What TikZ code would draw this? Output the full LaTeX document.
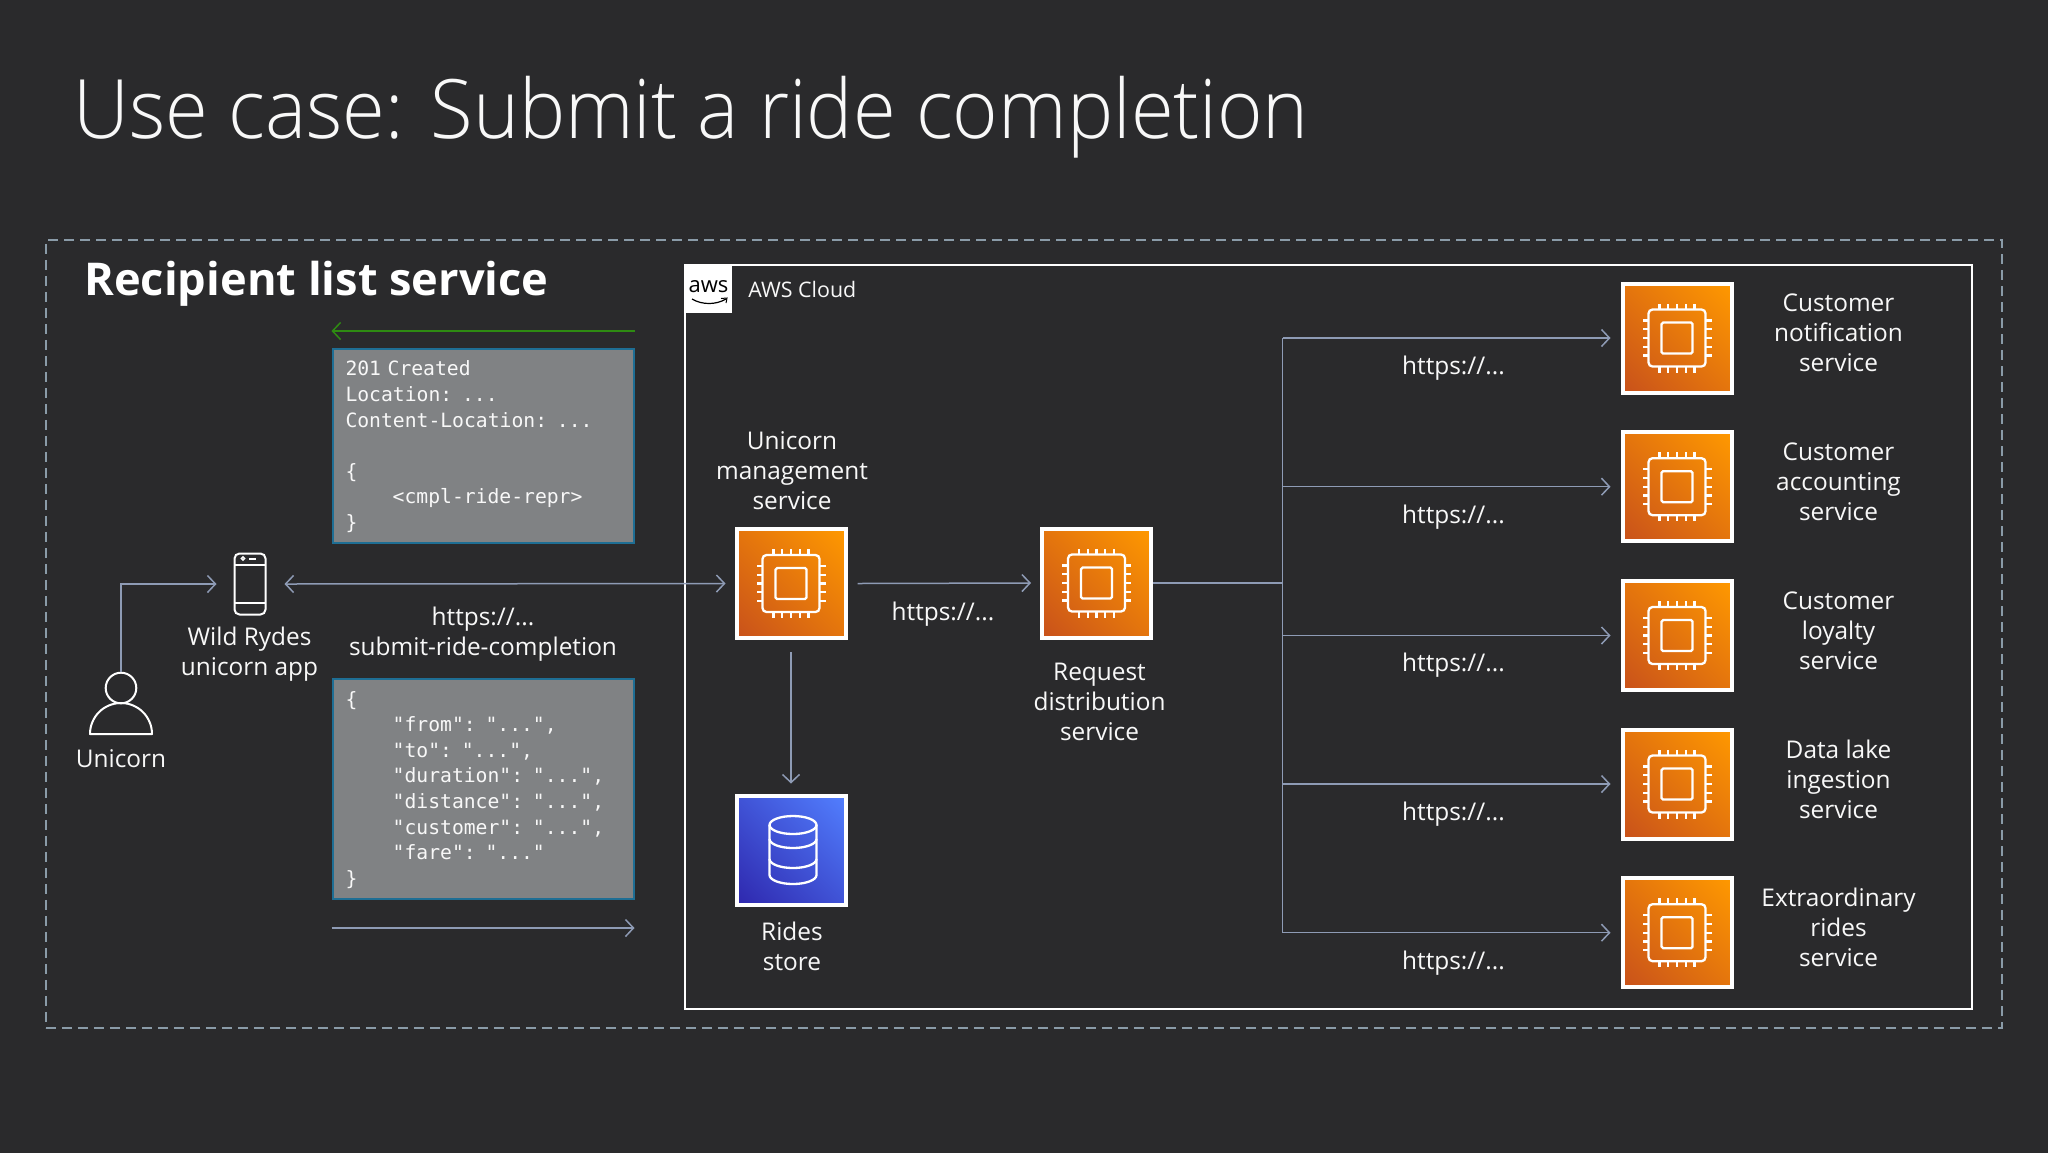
\documentclass[tikz,border=0pt]{standalone}
\usepackage{fontspec}
\setmainfont{Open Sans}
\newfontfamily\codefont{DejaVu Sans Mono}
\newfontfamily\ttlfont[FakeStretch=0.948]{Open Sans Light}
\usetikzlibrary{arrows.meta,shadings}
\definecolor{bgc}{HTML}{2A2A2C}
\definecolor{linec}{HTML}{8E9BB5}
\definecolor{greenc}{HTML}{2E8B12}
\definecolor{boxc}{HTML}{808284}
\definecolor{boxb}{HTML}{1E6E94}
\definecolor{dashc}{HTML}{8A9BA8}
\definecolor{txtc}{HTML}{F8F8F8}
\tikzset{
  conn/.style={draw=linec,line width=0.75pt},
  arr/.style={conn,-{Straight Barb[length=4pt,width=8.5pt,line width=0.75pt]}},
  darr/.style={conn,{Straight Barb[length=4pt,width=8.5pt,line width=0.75pt]}-{Straight Barb[length=4pt,width=8.5pt,line width=0.75pt]}},
  lbl/.style={text=txtc,font=\fontsize{12.2}{15}\selectfont,align=center,inner sep=0pt},
  icon/.style={draw=white,line width=2pt,minimum size=54.5pt,inner sep=0pt},
  orange/.style={icon,lower left={rgb,255:red,200;green,81;blue,27},upper right={rgb,255:red,255;green,153;blue,0},upper left={rgb,255:red,228;green,117;blue,13},lower right={rgb,255:red,228;green,117;blue,13}},
  blue/.style={icon,lower left={rgb,255:red,46;green,39;blue,173},upper right={rgb,255:red,82;green,127;blue,255},upper left={rgb,255:red,64;green,83;blue,214},lower right={rgb,255:red,64;green,83;blue,214}},
  codebox/.style={draw=boxb,fill=boxc,line width=1pt,minimum width=150.5pt,inner sep=0pt},
  code/.style={text=txtc,inner xsep=0pt,inner ysep=0pt,text width=137.5pt,align=left,font=\codefont\fontsize{9.85}{12.8}\selectfont},
  glyph/.style={draw=white,line width=1.15pt},
  chip/.pic={
    \draw[glyph,rounded corners=2pt] (-28.5,-28.5) rectangle (28.5,28.5);
    \draw[glyph,rounded corners=0.8pt] (-15.5,-15.5) rectangle (15.5,15.5);
    \foreach \p in {-17.5,-8.75,0,8.75,17.5}{
      \draw[glyph] (\p,-28.5) -- (\p,-34.5);
      \draw[glyph] (\p,28.5) -- (\p,34.5);
      \draw[glyph] (-28.5,\p) -- (-34.5,\p);
      \draw[glyph] (28.5,\p) -- (34.5,\p);
    }
  }
}
\newcommand{\ind}{\hspace*{23.6pt}}
\begin{document}
\begin{tikzpicture}[x=0.5pt,y=-0.5pt]
\useasboundingbox (0,0) rectangle (2048,1152);
\fill[bgc] (-10,-10) rectangle (2058,1162);
% title
\node[anchor=west,text=txtc,inner sep=0pt,font=\ttlfont\fontsize{41}{41}\selectfont] (title) at (73,117) {Use case: Submit a ride completion};
% frames
\node[draw=dashc,line width=0.75pt,dash pattern=on 5pt off 3pt,minimum width=978pt,minimum height=394pt,inner sep=0pt,anchor=north west] (outer) at (45,239) {};
\node[draw=white,line width=0.9pt,minimum width=643.5pt,minimum height=372.2pt,inner sep=0pt,anchor=north west] (cloud) at (684,264) {};
\node[anchor=west,text=white,inner sep=0pt,font=\bfseries\fontsize{22.6}{22.6}\selectfont] (rls) at (84,284) {Recipient list service};
% aws logo
\node[fill=white,minimum size=23.5pt,inner sep=0pt,anchor=north west] (logo) at (685,266) {};
\node[text=black,inner sep=0pt,font=\fontsize{11}{11}\selectfont] (awst) at (708.5,287) {aws};
\draw[black,line width=0.6pt] (692,299) .. controls (702,305) and (716,305) .. (726,299);
\draw[black,line width=0.5pt] (721,298.5) -- (727,298) -- (726,303);
\node[anchor=west,text=txtc,inner sep=0pt,font=\fontsize{10.7}{13}\selectfont] (awscloud) at (748,289) {AWS Cloud};
% icons
\node[orange] (um) at (791,583.5) {};
\pic at (um) {chip};
\node[orange] (rd) at (1096.5,583) {};
\pic at (rd) {chip};
\node[blue] (rs) at (791,850) {};
\foreach \n/\yy in {a/338,b/486.7,c/635.5,d/784,e/932.7}{
  \node[orange] (s\n) at (1677,\yy) {};
  \pic at (s\n) {chip};
}
% database glyph
\draw[glyph] (793,825) ellipse [x radius=23.5,y radius=9];
\draw[glyph] (769.5,825) -- (769.5,875) arc[start angle=180,end angle=0,x radius=23.5,y radius=9] -- (816.5,825);
\draw[glyph] (769.5,839) arc[start angle=180,end angle=0,x radius=23.5,y radius=9];
\draw[glyph] (769.5,859) arc[start angle=180,end angle=0,x radius=23.5,y radius=9];
% phone
\node[draw=white,line width=1pt,rounded corners=2.5pt,minimum width=15.5pt,minimum height=30.5pt,inner sep=0pt] (phone) at (250,584) {};
\draw[glyph,line width=1pt] (234,565) -- (266,565) (234,603) -- (266,603);
\draw[glyph,line width=1pt] (249,558.5) -- (256,558.5);
\draw[white,line width=0.7pt] (243,558.5) circle [radius=1.6];
% person
\node[minimum width=31pt,minimum height=31pt,inner sep=0pt] (person) at (121,703.5) {};
\draw[glyph,line width=1pt] (121,688) circle [radius=15.3];
\draw[glyph,line width=1pt,line join=round] (90,734) arc[start angle=180,end angle=360,radius=31] -- cycle;
% code boxes
\node[codebox,minimum height=97pt] (resp) at (483,446) {};
\node[code] (resptxt) at ([yshift=-0.4pt]resp.center) {201 Created\\Location: ...\\Content-Location: ...\\~\\\{\\\ind<cmpl-ride-repr>\\\}};
\node[codebox,minimum height=110pt] (req) at (483,789) {};
\node[code] (reqtxt) at ([yshift=-0.4pt]req.center) {\{\\\ind"from": "...",\\\ind"to": "...",\\\ind"duration": "...",\\\ind"distance": "...",\\\ind"customer": "...",\\\ind"fare": "..."\\\}};
% arrows beside boxes
\draw[draw=greenc,line width=0.75pt,-{Straight Barb[length=4pt,width=8.5pt,line width=0.75pt]}] ([yshift=8.5pt]resp.north east) -- ([yshift=8.5pt]resp.north west);
\draw[arr] ([yshift=-14pt]req.south west) -- ([yshift=-14pt]req.south east);
% connectors
\coordinate (pc) at (121,584);
\draw[arr] (person.north) -- (pc) -- ([xshift=-8.5pt]phone.west);
\draw[darr] ([xshift=9pt]phone.east) -- ([xshift=-4.5pt]um.west);
\draw[arr] ([xshift=5pt]um.east) -- ([xshift=-4.5pt]rd.west);
\draw[arr] ([yshift=-6pt]um.south) -- ([yshift=5pt]rs.north);
\coordinate (trunk) at (1282.5,583);
\draw[conn] (rd.east) -- (trunk);
\coordinate (ta) at (1282.5,338);
\coordinate (te) at (1282.5,932.7);
\draw[conn] (ta) -- (te);
\foreach \n/\yy in {a/338,b/486.7,c/635.5,d/784,e/932.7}{
  \coordinate (t\n) at (1282.5,\yy);
  \draw[arr] (t\n) -- ([xshift=-5pt]s\n.west);
}
% labels
\node[lbl] (l1) at (121,759) {Unicorn};
\node[lbl] (l2) at (249.5,654) {Wild Rydes\\unicorn app};
\node[lbl] (l3) at (483,634) {https://...\\submit-ride-completion};
\node[lbl] (l4) at (792,471) {Unicorn\\management\\service};
\node[lbl] (l5) at (943,614) {https://...};
\node[lbl] (l6) at (1099.5,702) {Request\\distribution\\service};
\node[lbl] (l7) at (792,946) {Rides\\store};
\node[lbl] (n1) at (1838.5,333) {Customer\\notification\\service};
\node[lbl] (n2) at (1838.5,481.7) {Customer\\accounting\\service};
\node[lbl] (n3) at (1838.5,630.5) {Customer\\loyalty\\service};
\node[lbl] (n4) at (1838.5,779) {Data lake\\ingestion\\service};
\node[lbl] (n5) at (1838.5,927.7) {Extraordinary\\rides\\service};
\foreach \i/\yy in {1/368,2/516.7,3/665.3,4/814,5/962.7}{
  \node[lbl] (h\i) at (1453.5,\yy) {https://...};
}
\end{tikzpicture}
\end{document}
